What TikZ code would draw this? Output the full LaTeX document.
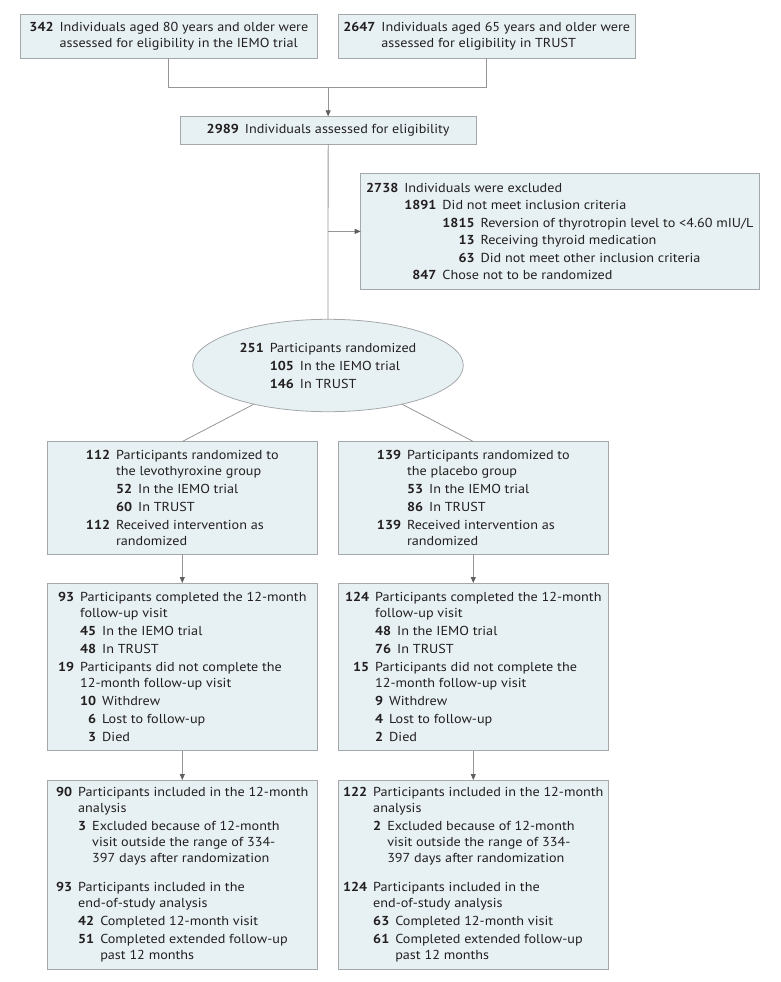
\documentclass[tikz,border=0pt]{standalone}
\usepackage{fontspec}
\setmainfont[FakeStretch=1.09]{PT Sans}
\usepackage{tikz}
\usetikzlibrary{arrows.meta}
\usetikzlibrary{shapes}

\definecolor{boxfill}{RGB}{231,241,243}
\definecolor{boxline}{RGB}{165,168,170}
\definecolor{linegray}{RGB}{150,150,150}
\definecolor{tipgray}{RGB}{95,95,95}
\definecolor{textc}{RGB}{35,31,32}

\newlength\numw
\newcommand{\rnum}[2]{\settowidth{\numw}{\bfseries #1}\makebox[\numw][r]{\bfseries #2}}
\newcommand{\gp}{\hspace{6pt}}
\newcommand{\ind}[1]{\hphantom{\rnum{#1}{}\gp}}
\newcommand{\brk}{\\[2pt]}

\begin{document}
\begin{tikzpicture}[x=1pt, y=-1pt,
		flowbox/.style={draw=boxline, fill=boxfill, line width=0.8pt, inner sep=0pt, outer sep=0pt, align=left, text=textc, font=\fontsize{13}{16}\selectfont},
		conn/.style={draw=linegray, line width=0.8pt},
		arr/.style={conn, -{Triangle[length=6pt, width=5pt, color=tipgray]}}]
	\useasboundingbox (0,0) rectangle (780,982);

	\node[flowbox, minimum width=296.3pt, minimum height=44pt] (iemo) at (168.85,36.3) {\rnum{000}{342}\gp Individuals aged 80 years and older were\\ \ind{000}assessed for eligibility in the IEMO trial};
	\node[flowbox, minimum width=296.7pt, minimum height=44pt] (trust) at (486.65,36.3) {\rnum{0000}{2647}\gp Individuals aged 65 years and older were\\ \ind{0000}assessed for eligibility in TRUST};
	\node[flowbox, minimum width=296.3pt, minimum height=27.7pt] (assessed) at (328.15,130.15) {\rnum{0000}{2989}\gp Individuals assessed for eligibility};

	\node[flowbox, minimum width=398.3pt, minimum height=116.2pt] (excluded) at (559.85,231.4) {\rnum{0000}{2738}\gp Individuals were excluded\\[1.5pt]
		\ind{0000}\rnum{0000}{1891}\gp Did not meet inclusion criteria\\[1.5pt]
		\ind{0000}\ind{0000}\rnum{0000}{1815}\gp Reversion of thyrotropin level to <4.60 mIU/L\\[1.5pt]
		\ind{0000}\ind{0000}\rnum{0000}{13}\gp Receiving thyroid medication\\[1.5pt]
		\ind{0000}\ind{0000}\rnum{0000}{63}\gp Did not meet other inclusion criteria\\[1.5pt]
		\ind{0000}\rnum{0000}{847}\gp Chose not to be randomized};

	\node[flowbox, ellipse, minimum width=270.6pt, minimum height=92.4pt] (rand) at (328,365.5) {\rnum{000}{251}\gp Participants randomized\brk
		\ind{000}\rnum{000}{105}\gp In the IEMO trial\brk
		\ind{000}\rnum{000}{146}\gp In TRUST};

	% levothyroxine column
	\node[flowbox, minimum width=270pt, minimum height=112.5pt] (levo) at (182.3,497.75) {\rnum{000}{112}\gp Participants randomized to\\
		\ind{000}the levothyroxine group\brk
		\ind{000}\rnum{00}{52}\gp In the IEMO trial\brk
		\ind{000}\rnum{00}{60}\gp In TRUST\brk
		\rnum{000}{112}\gp Received intervention as\\
		\ind{000}randomized};
	\node[flowbox, minimum width=270pt, minimum height=167.7pt] (levofu) at (182.3,666.85) {\rnum{00}{93}\gp Participants completed the 12-month\\
		\ind{00}follow-up visit\brk
		\ind{00}\rnum{00}{45}\gp In the IEMO trial\brk
		\ind{00}\rnum{00}{48}\gp In TRUST\brk
		\rnum{00}{19}\gp Participants did not complete the\\
		\ind{00}12-month follow-up visit\brk
		\ind{00}\rnum{00}{10}\gp Withdrew\brk
		\ind{00}\rnum{00}{6}\gp Lost to follow-up\brk
		\ind{00}\rnum{00}{3}\gp Died};
	\node[flowbox, minimum width=270pt, minimum height=189pt] (levoan) at (182.3,874.5) {\rnum{00}{90}\gp Participants included in the 12-month\\
		\ind{00}analysis\brk
		\ind{00}\rnum{0}{3}\gp Excluded because of 12-month\\
		\ind{00}\ind{0}visit outside the range of 334-\\
		\ind{00}\ind{0}397 days after randomization\\[13pt]
		\rnum{00}{93}\gp Participants included in the\\
		\ind{00}end-of-study analysis\brk
		\ind{00}\rnum{00}{42}\gp Completed 12-month visit\brk
		\ind{00}\rnum{00}{51}\gp Completed extended follow-up\\
		\ind{00}\ind{00}past 12 months};

	% placebo column
	\node[flowbox, minimum width=270pt, minimum height=112.5pt] (plac) at (473.3,497.75) {\rnum{000}{139}\gp Participants randomized to\\
		\ind{000}the placebo group\brk
		\ind{000}\rnum{00}{53}\gp In the IEMO trial\brk
		\ind{000}\rnum{00}{86}\gp In TRUST\brk
		\rnum{000}{139}\gp Received intervention as\\
		\ind{000}randomized};
	\node[flowbox, minimum width=270pt, minimum height=167.7pt] (placfu) at (473.3,666.85) {\rnum{000}{124}\gp Participants completed the 12-month\\
		\ind{000}follow-up visit\brk
		\ind{000}\rnum{00}{48}\gp In the IEMO trial\brk
		\ind{000}\rnum{00}{76}\gp In TRUST\brk
		\rnum{000}{15}\gp Participants did not complete the\\
		\ind{000}12-month follow-up visit\brk
		\ind{000}\rnum{0}{9}\gp Withdrew\brk
		\ind{000}\rnum{0}{4}\gp Lost to follow-up\brk
		\ind{000}\rnum{0}{2}\gp Died};
	\node[flowbox, minimum width=270pt, minimum height=189pt] (placan) at (473.3,874.5) {\rnum{000}{122}\gp Participants included in the 12-month\\
		\ind{000}analysis\brk
		\ind{000}\rnum{0}{2}\gp Excluded because of 12-month\\
		\ind{000}\ind{0}visit outside the range of 334-\\
		\ind{000}\ind{0}397 days after randomization\\[13pt]
		\rnum{000}{124}\gp Participants included in the\\
		\ind{000}end-of-study analysis\brk
		\ind{000}\rnum{00}{63}\gp Completed 12-month visit\brk
		\ind{000}\rnum{00}{61}\gp Completed extended follow-up\\
		\ind{000}\ind{00}past 12 months};

	\coordinate (join) at (328.15,87.3);
	\draw[conn] (iemo.south) |- (join) -| (trust.south);
	\draw[arr] (join) -- (assessed.north);
	\draw[conn] (assessed.south) -- (rand.north);
	\draw[arr] (assessed.south |- excluded.west) -- (excluded.west);
	\draw[conn] (rand) -- (levo.north);
	\draw[conn] (rand) -- (plac.north);
	\draw[arr] (levo) -- (levofu);
	\draw[arr] (levofu) -- (levoan);
	\draw[arr] (plac) -- (placfu);
	\draw[arr] (placfu) -- (placan);
\end{tikzpicture}
\end{document}
